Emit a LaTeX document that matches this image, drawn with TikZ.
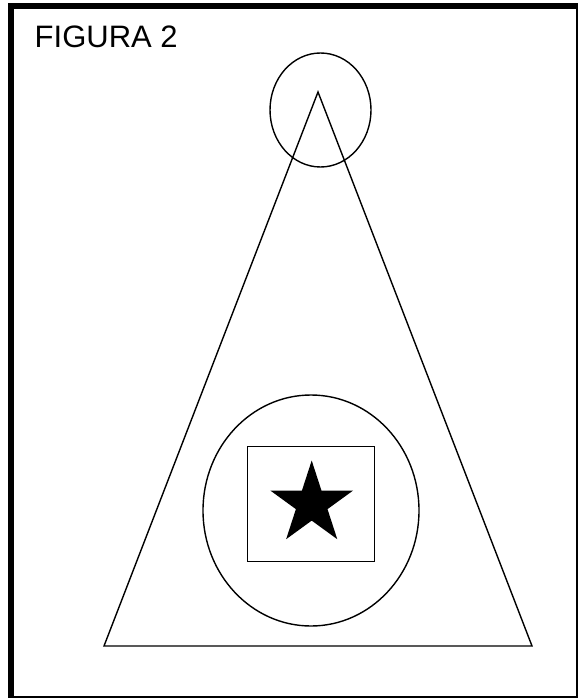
\documentclass[tikz,border=0pt]{standalone}
\usepackage{fontspec}
\setmainfont{Liberation Sans}
\usetikzlibrary{shapes.geometric}

\begin{document}
\begin{tikzpicture}[x=1pt,y=-1pt,line width=1.4pt,
  outline/.style={draw=black,line width=1.4pt,inner sep=0pt}]
  \useasboundingbox (0,0) rectangle (579,700);
  % frame
  \draw[line width=2pt] (9,4) rectangle (577,697);
  \fill (8,3) rectangle (577,9);
  \fill (8,3) rectangle (14,698);
  \node[anchor=base west,font=\fontsize{31}{37}\selectfont,inner sep=0pt] (title) at (34,48) {FIGURA 2};
  % triangle
  \coordinate (apex) at (318,92);
  \coordinate (bl) at (104,646);
  \coordinate (br) at (532,646);
  \draw (apex) -- (bl) -- (br) -- cycle;
  \node[outline,ellipse,minimum width=101pt,minimum height=114pt] (topring) at (320.5,110) {};
  \node[outline,ellipse,minimum width=216pt,minimum height=231pt] (bigring) at (311,510.5) {};
  \node[outline,rectangle,minimum width=127.5pt,minimum height=115pt] (box) at (311,504) {};
  \node[star,star points=5,star point ratio=2.618,minimum size=87pt,fill=black,inner sep=0pt] (star) at (311.7,504) {};
\end{tikzpicture}
\end{document}
